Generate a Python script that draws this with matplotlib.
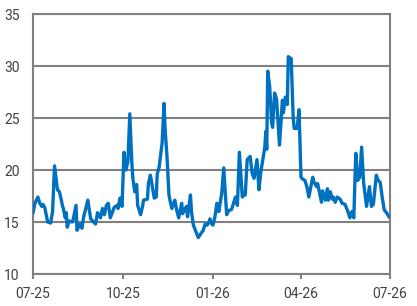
import matplotlib
matplotlib.use("Agg")
import matplotlib.pyplot as plt
import pandas as pd

dates = [
    "2025-07-01", "2025-07-03", "2025-07-06", "2025-07-08", "2025-07-10", "2025-07-11",
    "2025-07-13", "2025-07-15", "2025-07-16", "2025-07-19", "2025-07-21", "2025-07-23",
    "2025-07-26", "2025-07-28", "2025-07-30", "2025-07-31", "2025-08-01", "2025-08-03",
    "2025-08-04", "2025-08-05", "2025-08-07", "2025-08-10", "2025-08-11", "2025-08-14",
    "2025-08-15", "2025-08-18", "2025-08-20", "2025-08-22", "2025-08-24", "2025-08-26",
    "2025-08-29", "2025-08-31", "2025-09-03", "2025-09-05", "2025-09-08", "2025-09-10",
    "2025-09-12", "2025-09-14", "2025-09-16", "2025-09-18", "2025-09-20", "2025-09-22",
    "2025-09-25", "2025-09-26", "2025-09-28", "2025-09-29", "2025-09-30", "2025-10-02",
    "2025-10-04", "2025-10-06", "2025-10-08", "2025-10-10", "2025-10-11", "2025-10-13",
    "2025-10-15", "2025-10-16", "2025-10-19", "2025-10-21", "2025-10-22", "2025-10-26",
    "2025-10-27", "2025-10-29", "2025-10-30", "2025-10-31", "2025-11-02", "2025-11-04",
    "2025-11-05", "2025-11-07", "2025-11-10", "2025-11-11", "2025-11-12", "2025-11-13",
    "2025-11-15", "2025-11-17", "2025-11-18", "2025-11-20", "2025-11-23", "2025-11-25",
    "2025-11-27", "2025-11-30", "2025-12-01", "2025-12-03", "2025-12-05", "2025-12-06",
    "2025-12-09", "2025-12-10", "2025-12-12", "2025-12-14", "2025-12-17", "2025-12-19",
    "2025-12-22", "2025-12-24", "2025-12-26", "2025-12-28", "2025-12-29", "2025-12-30",
    "2026-01-01", "2026-01-03", "2026-01-05", "2026-01-07", "2026-01-10", "2026-01-12",
    "2026-01-15", "2026-01-17", "2026-01-20", "2026-01-24", "2026-01-26", "2026-01-28",
    "2026-01-31", "2026-02-01", "2026-02-03", "2026-02-05", "2026-02-08", "2026-02-10",
    "2026-02-12", "2026-02-15", "2026-02-17", "2026-02-19", "2026-02-21", "2026-02-23",
    "2026-02-24", "2026-02-25", "2026-02-26", "2026-02-28", "2026-03-02", "2026-03-03",
    "2026-03-05", "2026-03-07", "2026-03-10", "2026-03-13", "2026-03-14", "2026-03-16",
    "2026-03-18", "2026-03-19", "2026-03-22", "2026-03-24", "2026-03-25", "2026-03-28",
    "2026-03-30", "2026-04-01", "2026-04-03", "2026-04-05", "2026-04-07", "2026-04-09",
    "2026-04-13", "2026-04-14", "2026-04-17", "2026-04-18", "2026-04-20", "2026-04-22",
    "2026-04-23", "2026-04-26", "2026-04-28", "2026-04-29", "2026-05-01", "2026-05-03",
    "2026-05-04", "2026-05-06", "2026-05-08", "2026-05-11", "2026-05-13", "2026-05-16",
    "2026-05-19", "2026-05-21", "2026-05-23", "2026-05-25", "2026-05-27", "2026-05-29",
    "2026-05-31", "2026-06-02", "2026-06-04", "2026-06-07", "2026-06-10", "2026-06-12",
    "2026-06-14", "2026-06-17", "2026-06-19", "2026-06-21", "2026-06-23", "2026-06-25",
    "2026-06-28", "2026-06-30",
]

values = [
    15.9, 16.8, 17.4, 16.8, 16.5, 16.7,
    16.4, 15.5, 15.0, 14.9, 16.0, 20.4,
    18.1, 17.9, 17.1, 16.6, 16.3, 15.4,
    15.9, 14.5, 15.1, 15.0, 15.2, 16.6,
    14.2, 14.8, 14.4, 15.6, 16.3, 17.1,
    15.3, 15.1, 14.8, 15.9, 15.4, 16.3,
    15.7, 16.6, 16.8, 15.4, 15.9, 16.4,
    16.6, 16.3, 17.3, 17.1, 16.5, 21.7,
    20.0, 20.8, 25.4, 20.8, 19.3, 17.9,
    18.6, 16.6, 15.7, 16.5, 17.1, 17.2,
    18.7, 19.5, 19.0, 18.4, 17.3, 17.4,
    19.6, 20.3, 22.6, 24.6, 26.4, 24.0,
    21.3, 17.6, 17.1, 16.3, 17.1, 16.1,
    15.4, 16.8, 15.8, 16.2, 16.5, 15.5,
    17.6, 16.0, 14.7, 14.2, 13.5, 13.8,
    14.2, 14.8, 14.7, 15.0, 15.3, 14.9,
    14.7, 15.5, 16.8, 16.0, 17.8, 20.2,
    15.7, 16.1, 16.2, 17.4, 16.6, 21.7,
    17.4, 17.6, 17.6, 21.0, 21.3, 19.7,
    19.2, 21.0, 18.1, 19.9, 21.0, 22.2,
    23.7, 22.0, 29.5, 28.0, 24.5, 24.1,
    27.4, 26.8, 22.4, 26.7, 25.5, 27.0,
    26.3, 30.9, 30.7, 25.1, 24.0, 24.0,
    25.8, 19.3, 19.1, 19.0, 18.4, 17.4,
    19.3, 18.9, 18.4, 18.7, 17.8, 16.9,
    18.0, 17.1, 18.2, 17.1, 17.9, 17.2,
    17.4, 16.9, 17.4, 17.2, 16.8, 16.7,
    16.0, 15.4, 16.0, 15.4, 21.6, 19.0,
    19.3, 22.2, 18.8, 16.5, 18.4, 16.5,
    16.7, 19.5, 19.0, 18.8, 17.4, 16.2,
    15.8, 15.5,
]

tick_dates = ["2025-07-01", "2025-10-01", "2026-01-01", "2026-04-01", "2026-07-01"]
tick_labels = ["07-25", "10-25", "01-26", "04-26", "07-26"]
y_ticks = [10, 15, 20, 25, 30, 35]

plt.rcParams['font.family'] = ['Roboto', 'DejaVu Sans']

x = pd.to_datetime(dates)
xt = pd.to_datetime(tick_dates)

fig = plt.figure(figsize=(4.17, 3.06), dpi=100)
ax = fig.add_axes([33 / 417, 32 / 306, (390 - 33) / 417, (274 - 14) / 306])

grid_c = "#808080"
ax.plot(x, values, color="#0070C0", linewidth=2.4, solid_joinstyle="round", zorder=3)

ax.set_xlim(xt[0], xt[-1])
ax.set_ylim(10, 35)
ax.set_yticks(y_ticks)
ax.set_xticks(xt)
ax.set_xticklabels(tick_labels)
ax.yaxis.grid(True, color=grid_c, linewidth=1.5)
ax.set_axisbelow(True)

for s in ax.spines.values():
    s.set_color(grid_c)
    s.set_linewidth(1.5)

ax.tick_params(axis="y", length=0, pad=9.5, labelsize=10, labelcolor="#404040")
ax.tick_params(axis="x", length=3.5, width=1.5, color=grid_c, direction="out",
               pad=6, labelsize=10, labelcolor="#404040")

fig.savefig("out.png", dpi=100)
